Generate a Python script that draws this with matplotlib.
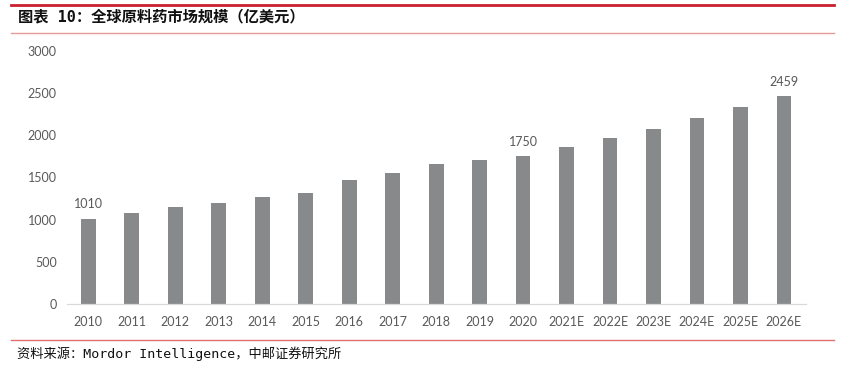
import matplotlib
matplotlib.use('Agg')

import matplotlib.pyplot as plt
from matplotlib.lines import Line2D

# data
years = ['2010', '2011', '2012', '2013', '2014', '2015', '2016', '2017', '2018',
         '2019', '2020', '2021E', '2022E', '2023E', '2024E', '2025E', '2026E']
market_size = [1010, 1075, 1146, 1200, 1264, 1315, 1469, 1558, 1662,
               1706, 1750, 1857, 1967, 2077, 2200, 2331, 2459]
labelled = ['2010', '2020', '2026E']
y_ticks = [0, 500, 1000, 1500, 2000, 2500, 3000]

title = '图表 10：全球原料药市场规模（亿美元）'
source = '资料来源：Mordor Intelligence，中邮证券研究所'

mono_cjk = ['DejaVu Sans Mono', 'Noto Sans CJK SC']
bar_color = '#88898b'
text_gray = '#595959'

fig = plt.figure(figsize=(8.46, 3.70), dpi=100)
W, H = 846.0, 370.0

ax = fig.add_axes([66.6 / W, 1 - 304 / H, (805.7 - 66.6) / W, (304 - 50.8) / H])
x = range(len(years))
ax.bar(x, market_size, width=0.34, color=bar_color, zorder=2)

for i, (yr, v) in enumerate(zip(years, market_size)):
    if yr in labelled:
        ax.annotate(str(v), xy=(i, v), xytext=(0, 6), textcoords='offset points',
                    ha='center', va='bottom', fontsize=9, family='Lato', color=text_gray)

ax.set_xlim(-0.5, len(years) - 0.5)
ax.set_ylim(0, 3000)
ax.set_yticks(y_ticks)
ax.set_xticks(list(x))
ax.set_xticklabels(years)
for lbl in ax.get_xticklabels() + ax.get_yticklabels():
    lbl.set_family('Lato')
    lbl.set_fontsize(9)
    lbl.set_color(text_gray)
ax.tick_params(axis='both', length=0)
ax.tick_params(axis='y', pad=7)
ax.tick_params(axis='x', pad=9)
for side in ['top', 'right', 'left']:
    ax.spines[side].set_visible(False)
ax.spines['bottom'].set_color('#d9d9d9')
ax.spines['bottom'].set_linewidth(0.9)

# header / footer rules
x0, x1 = 11 / W, 834 / W
fig.add_artist(Line2D([x0, x1], [1 - 5 / H, 1 - 5 / H], color='#c8202e', lw=2.0))
fig.add_artist(Line2D([x0, x1], [1 - 33 / H, 1 - 33 / H], color='#e89a9a', lw=1.0))
fig.add_artist(Line2D([x0, x1], [1 - 340.3 / H, 1 - 340.3 / H], color='#e07070', lw=1.0))

fig.text(18 / W, 1 - 17 / H, title, family=mono_cjk, fontsize=11, fontweight='bold',
         color='#111111', va='center', ha='left')
fig.text(17 / W, 1 - 354 / H, source, family=mono_cjk, fontsize=9.5,
         color='#111111', va='center', ha='left')

fig.savefig('out.png', dpi=100)
